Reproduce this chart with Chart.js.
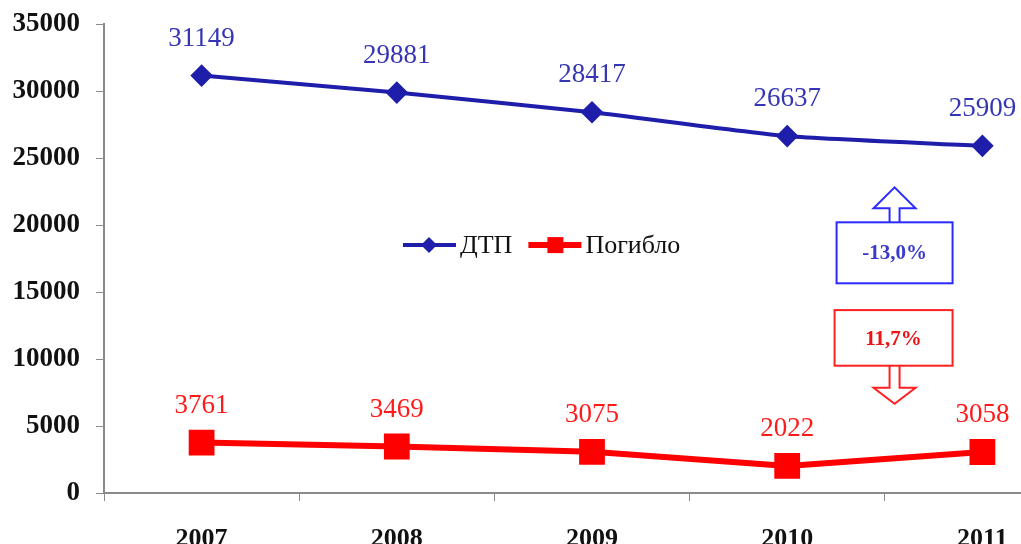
<!DOCTYPE html>
<html>
<head>
<meta charset="utf-8">
<script src="https://cdn.jsdelivr.net/npm/chart.js@4"></script>
<style>
  html, body { margin: 0; padding: 0; background: #fff; overflow: hidden; }
  #wrap { width: 1100px; height: 560px; }
</style>
</head>
<body>
<div id="wrap"><canvas id="dtpChart" width="1100" height="560"></canvas></div>
<script>
// Данные графика
const years = ['2007', '2008', '2009', '2010', '2011'];
const dtp = [31149, 29881, 28417, 26637, 25909];      // ДТП
const killed = [3761, 3469, 3075, 2022, 3058];        // Погибло
const seriesNames = ['ДТП', 'Погибло'];
const changeLabels = ['-13,0%', '11,7%'];
const yTicks = [0, 5000, 10000, 15000, 20000, 25000, 30000, 35000];

const serif = '"Liberation Serif", "Times New Roman", serif';

// подписи значений над точками
const valueLabels = {
    id: 'valueLabels',
    afterDatasetsDraw(chart) {
        const ctx = chart.ctx;
        ctx.save();
        ctx.font = '27px ' + serif;
        ctx.textAlign = 'center';
        ctx.textBaseline = 'middle';
        chart.data.datasets.forEach((ds, i) => {
            ctx.fillStyle = ds.labelColor;
            chart.getDatasetMeta(i).data.forEach((pt, j) => {
                ctx.fillText(ds.data[j], pt.x, pt.y - 37);
            });
        });
        ctx.restore();
    }
};

// легенда в середине графика
const midLegend = {
    id: 'midLegend',
    afterDraw(chart) {
        const ctx = chart.ctx;
        const y = chart.scales.y.getPixelForValue(18500);
        let x = 403;
        ctx.save();
        ctx.font = '26px ' + serif;
        ctx.textBaseline = 'middle';
        chart.data.datasets.forEach((ds, i) => {
            ctx.strokeStyle = ds.borderColor;
            ctx.lineWidth = ds.borderWidth;
            ctx.beginPath();
            ctx.moveTo(x, y);
            ctx.lineTo(x + 53, y);
            ctx.stroke();
            ctx.fillStyle = ds.pointBackgroundColor;
            ctx.beginPath();
            if (ds.pointStyle === 'rectRot') {
                ctx.moveTo(x + 26, y - 8);
                ctx.lineTo(x + 34, y);
                ctx.lineTo(x + 26, y + 8);
                ctx.lineTo(x + 18, y);
                ctx.closePath();
            } else {
                ctx.rect(x + 19, y - 8, 16, 16);
            }
            ctx.fill();
            ctx.fillStyle = '#111';
            ctx.fillText(ds.label, x + 57, y + 1);
            x += 57 + ctx.measureText(ds.label).width + 16;
        });
        ctx.restore();
    }
};

// рамки с процентами и стрелками
const callouts = {
    id: 'callouts',
    afterDraw(chart) {
        const ctx = chart.ctx;
        const cx = chart.scales.x.getPixelForValue(3.55);
        const ys = chart.scales.y;
        ctx.save();
        ctx.lineWidth = 2;
        ctx.textAlign = 'center';
        ctx.textBaseline = 'middle';
        ctx.font = 'bold 21px ' + serif;

        // синяя рамка, стрелка вверх
        let top = ys.getPixelForValue(20200), bot = ys.getPixelForValue(15650);
        ctx.strokeStyle = '#2b2bff';
        ctx.strokeRect(cx - 58, top, 116, bot - top);
        ctx.beginPath();
        ctx.moveTo(cx - 5, top);
        ctx.lineTo(cx - 5, top - 14);
        ctx.lineTo(cx - 21, top - 14);
        ctx.lineTo(cx, top - 35);
        ctx.lineTo(cx + 21, top - 14);
        ctx.lineTo(cx + 5, top - 14);
        ctx.lineTo(cx + 5, top);
        ctx.stroke();
        ctx.fillStyle = '#3a3acc';
        ctx.fillText(changeLabels[0], cx, (top + bot) / 2 + 1);

        // красная рамка, стрелка вниз
        top = ys.getPixelForValue(13650); bot = ys.getPixelForValue(9500);
        ctx.strokeStyle = '#ff2020';
        ctx.strokeRect(cx - 60, top, 118, bot - top);
        ctx.beginPath();
        ctx.moveTo(cx - 5, bot);
        ctx.lineTo(cx - 5, bot + 22);
        ctx.lineTo(cx - 21, bot + 22);
        ctx.lineTo(cx, bot + 38);
        ctx.lineTo(cx + 21, bot + 22);
        ctx.lineTo(cx + 5, bot + 22);
        ctx.lineTo(cx + 5, bot);
        ctx.stroke();
        ctx.fillStyle = '#ee1111';
        ctx.fillText(changeLabels[1], cx - 1, (top + bot) / 2 + 2);
        ctx.restore();
    }
};

new Chart(document.getElementById('dtpChart'), {
    type: 'line',
    data: {
        labels: years,
        datasets: [{
            label: seriesNames[0],
            data: dtp,
            borderColor: '#1e1eaa',
            backgroundColor: '#1e1eaa',
            pointBackgroundColor: '#1e1eaa',
            pointBorderColor: '#1e1eaa',
            labelColor: '#3535b5',
            borderWidth: 4,
            pointStyle: 'rectRot',
            pointRadius: 8.5,
            tension: 0.2,
            fill: false
        }, {
            label: seriesNames[1],
            data: killed,
            borderColor: '#ff0000',
            backgroundColor: '#ff0000',
            pointBackgroundColor: '#ff0000',
            pointBorderColor: '#ff0000',
            labelColor: '#ff1a1a',
            borderWidth: 6,
            pointStyle: 'rect',
            pointRadius: 14,
            tension: 0,
            fill: false
        }]
    },
    options: {
        responsive: false,
        animation: false,
        layout: { padding: { top: 24, right: 10, left: 2, bottom: 0 } },
        plugins: { legend: { display: false }, tooltip: { enabled: false } },
        scales: {
            x: {
                offset: true,
                afterFit: s => { s.height = 67; s.paddingLeft = 0; s.paddingRight = 0; },
                grid: { offset: true, drawOnChartArea: false, tickLength: 8, color: '#8a8a8a' },
                border: { color: '#8a8a8a', width: 2 },
                ticks: { color: '#111', padding: 23, font: { family: serif, size: 26, weight: 'bold' } }
            },
            y: {
                min: 0,
                max: 35000,
                afterFit: s => { s.width = 102; s.paddingTop = 0; s.paddingBottom = 0; },
                afterBuildTicks: s => { s.ticks = yTicks.map(v => ({ value: v })); },
                grid: { drawOnChartArea: false, tickLength: 8, color: '#8a8a8a' },
                border: { color: '#8a8a8a', width: 2 },
                ticks: {
                    color: '#111', padding: 16,
                    font: { family: serif, size: 27, weight: 'bold' },
                    callback: v => String(v)
                }
            }
        }
    },
    plugins: [valueLabels, midLegend, callouts]
});
</script>
</body>
</html>
